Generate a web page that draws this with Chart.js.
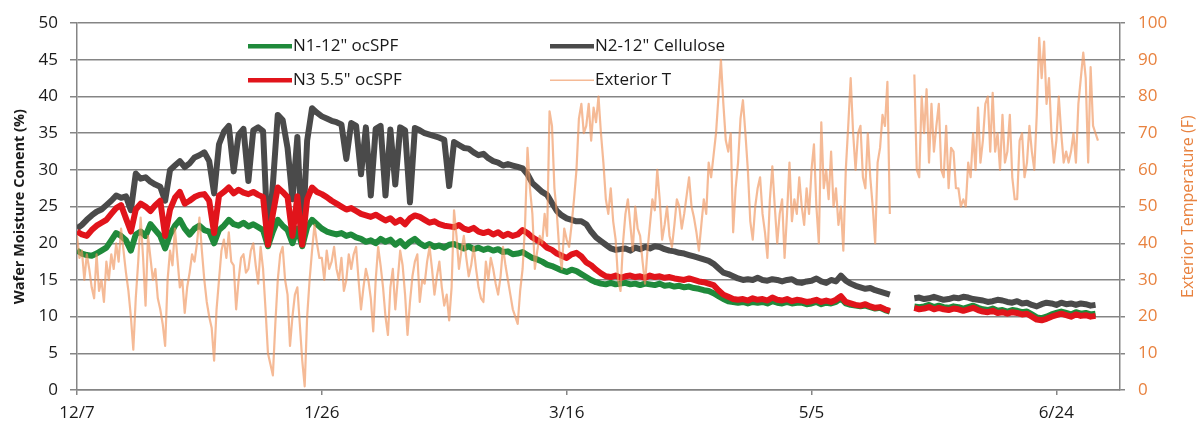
<!DOCTYPE html>
<html><head><meta charset="utf-8">
<script src="https://cdn.jsdelivr.net/npm/chart.js@4.4.1/dist/chart.umd.min.js"></script>
<style>html,body{margin:0;padding:0;background:#fff;}#wrap{width:1202px;height:432px;}</style>
</head><body><div id="wrap"><canvas id="c" width="1202" height="432"></canvas></div>
<script>
// x axis: days since 12/7
const tickDays = [0, 50, 100, 150, 200];
const tickLabels = ['12/7', '1/26', '3/16', '5/5', '6/24'];
const seriesNames = ['N1-12" ocSPF', 'N2-12" Cellulose', 'N3 5.5" ocSPF', 'Exterior T'];

// N1-12" ocSPF, one value per day (day 0 = 12/7)
const n1 = [
19.0,18.6,18.4,18.3,18.6,19.0,19.4,20.4,21.4,21.0,
20.4,19.0,21.2,21.6,21.0,22.6,21.8,21.0,19.3,21.2,
22.4,23.2,22.0,21.2,22.0,22.4,21.8,21.6,20.0,21.8,
22.4,23.2,22.6,22.4,22.8,22.3,22.6,22.2,21.8,19.6,
21.6,23.2,22.4,21.8,20.0,22.0,19.6,22.2,23.2,22.6,
22.0,21.6,21.4,21.2,21.4,21.0,21.2,20.8,20.6,20.2,
20.4,20.0,20.6,20.2,20.5,19.8,20.3,19.6,20.2,20.6,
20.0,19.6,19.9,19.5,19.7,19.4,19.8,19.9,19.6,19.3,
19.6,19.2,19.4,19.1,19.3,19.0,19.2,18.8,18.9,18.5,
18.6,18.8,18.4,18.0,17.8,17.5,17.1,16.9,16.6,16.3,
16.1,16.4,16.2,15.8,15.4,15.0,14.7,14.5,14.4,14.6,
14.4,14.5,14.6,14.4,14.5,14.3,14.5,14.4,14.3,14.5,
14.2,14.3,14.1,14.2,14.0,14.1,13.9,13.8,13.6,13.5,
13.2,12.8,12.4,12.1,12.0,11.9,12.0,11.8,12.0,11.9,
12.0,11.8,12.1,11.9,11.8,12.0,11.8,11.9,11.9,11.7,
11.8,12.0,11.7,11.9,11.8,12.0,12.5,11.8,11.6,11.5,
11.4,11.5,11.3,11.1,11.2,10.9,10.7,null,null,null,
null,11.4,11.3,11.4,11.6,11.3,11.5,11.3,11.2,11.4,
11.3,11.1,11.3,11.5,11.2,11.0,10.9,11.1,10.8,10.9,
10.7,10.9,10.8,10.6,10.7,10.3,9.9,9.8,10.0,10.3,
10.5,10.7,10.5,10.3,10.6,10.4,10.5,10.3,10.4
];

// N2-12" Cellulose
const n2 = [
22.0,22.5,23.2,23.8,24.3,24.6,25.2,25.8,26.5,26.2,
26.4,24.5,29.5,28.8,29.0,28.4,28.0,27.7,25.8,30.0,
30.6,31.2,30.4,30.9,31.7,32.0,32.4,31.2,26.8,33.5,
35.2,36.0,29.8,34.8,35.6,28.5,35.4,35.8,35.3,20.0,
28.0,37.5,36.8,33.0,26.0,34.5,19.8,34.0,38.4,37.8,
37.3,37.0,36.7,36.5,36.2,31.5,36.4,36.0,29.4,35.8,
26.5,35.6,36.0,26.5,35.5,28.0,35.8,35.4,25.6,35.7,
35.4,35.0,34.8,34.6,34.4,34.1,27.8,33.8,33.4,33.0,
32.9,32.4,32.0,32.2,31.6,31.2,31.0,30.6,30.8,30.6,
30.4,30.2,29.4,28.2,27.6,27.0,26.6,25.5,24.4,23.8,
23.4,23.2,23.0,23.0,22.6,21.6,20.8,20.3,19.8,19.3,
19.1,19.2,19.3,19.0,19.4,19.2,19.5,19.3,19.6,19.5,
19.2,19.0,18.9,18.7,18.6,18.4,18.2,18.0,17.8,17.6,
17.2,16.6,16.0,15.8,15.5,15.2,15.0,15.1,15.0,15.3,
15.0,14.9,15.1,15.0,14.8,15.0,15.1,14.7,14.6,14.8,
14.9,15.2,14.8,14.6,15.0,14.8,15.6,14.9,14.5,14.2,
14.0,13.8,13.9,13.6,13.4,13.2,13.0,null,null,null,
null,12.5,12.6,12.4,12.5,12.7,12.5,12.3,12.4,12.6,
12.5,12.7,12.6,12.4,12.3,12.2,12.0,12.1,12.3,12.2,
12.0,11.9,12.1,11.8,11.9,11.6,11.4,11.7,11.9,11.8,
11.6,11.9,11.7,11.8,11.6,11.8,11.7,11.5,11.6
];

// N3 5.5" ocSPF
const n3 = [
21.6,21.2,21.0,21.8,22.4,22.8,23.2,24.0,24.8,25.2,
23.4,21.6,24.6,25.4,25.0,24.4,25.2,25.8,21.0,24.6,
26.2,27.0,25.4,25.8,26.3,26.6,26.7,25.8,21.4,26.5,
27.0,27.6,26.8,27.3,26.9,26.7,27.0,26.6,26.3,19.8,
24.0,27.6,27.0,26.3,21.0,26.4,19.8,26.0,27.6,27.0,
26.7,26.3,25.8,25.4,25.0,24.6,24.8,24.4,24.0,23.8,
23.6,23.9,23.5,23.1,23.4,22.8,23.2,22.6,23.4,23.8,
23.6,23.2,22.8,23.0,22.6,22.4,22.3,22.2,22.5,22.0,
21.8,22.1,21.6,21.4,21.6,21.2,21.5,21.0,21.3,21.0,
21.2,21.8,21.4,20.8,20.4,20.0,19.4,19.1,18.6,18.3,
18.0,18.5,18.7,18.2,17.4,17.0,16.4,15.9,15.5,15.4,
15.6,15.3,15.5,15.6,15.4,15.5,15.3,15.6,15.4,15.5,
15.3,15.4,15.2,15.1,15.0,15.2,15.0,14.8,14.7,14.5,
14.3,13.6,13.0,12.7,12.4,12.3,12.4,12.2,12.5,12.3,
12.4,12.2,12.6,12.3,12.2,12.4,12.1,12.3,12.2,12.0,
12.1,12.3,12.0,12.2,12.0,12.3,12.8,12.0,11.8,11.6,
11.5,11.7,11.4,11.2,11.3,11.0,10.8,null,null,null,
null,11.2,11.0,11.1,11.3,11.0,11.2,11.0,10.9,11.1,
11.0,10.8,11.0,11.2,10.9,10.7,10.6,10.8,10.5,10.6,
10.4,10.6,10.5,10.3,10.4,10.0,9.6,9.5,9.7,10.0,
10.2,10.4,10.2,10.0,10.3,10.1,10.2,10.0,10.1
];

// Exterior T (F), two readings per day
const extT = [
42,36, 38,30, 37,33, 28,25, 37,27, 30,24, 35,30, 37,33, 40,35, 44,38,
32,27, 20,11, 25,35, 47,36, 23,42, 36,30, 33,25, 22,18, 12,30, 38,34,
44,36, 28,30, 21,28, 32,37, 35,40, 47,38, 30,24, 20,17, 8,22, 30,38,
41,36, 43,35, 34,22, 30,36, 37,32, 33,38, 40,34, 29,39, 33,22, 10,7,
4,18, 30,37, 39,30, 26,12, 20,26, 28,18, 8,1, 20,30, 38,45, 40,36,
36,30, 38,33, 35,39, 33,30, 36,27, 30,37, 33,37, 39,30, 22,28, 33,30,
25,16, 30,39, 34,28, 20,15, 28,33, 22,30, 38,34, 26,15, 24,31, 35,37,
24,30, 29,35, 39,33, 26,31, 35,28, 23,26, 19,28, 49,42, 33,38, 42,36,
31,34, 39,33, 28,25, 24,35, 30,36, 33,29, 26,31, 39,34, 30,26, 22,20,
18,27, 33,45, 66,55, 48,33, 38,42, 40,48, 42,76, 72,55, 48,38, 33,44,
41,39, 45,52, 60,74, 78,70, 72,78, 68,77, 73,80, 70,62, 52,48, 55,46,
41,30, 27,40, 48,52, 45,38, 50,44, 42,35, 29,38, 45,52, 49,60, 52,41,
45,50, 42,39, 45,52, 50,44, 48,53, 58,50, 47,43, 38,45, 52,48, 62,58,
64,70, 80,90, 78,68, 65,70, 43,55, 62,74, 79,70, 60,46, 41,50, 55,58,
48,43, 36,52, 61,50, 40,48, 52,36, 48,62, 46,52, 48,58, 50,45, 55,48,
60,67, 50,40, 73,55, 60,52, 65,50, 55,45, 50,38, 60,72, 85,70, 60,70,
72,58, 55,70, 58,50, 40,62, 66,75, 72,84, 48,null, null,null, null,null, null,null,
null,null, 86,60, 58,80, 70,82, 62,78, 65,72, 78,60, 58,72, 55,66, 65,55,
55,50, 52,50, 62,58, 70,60, 77,62, 68,78, 80,65, 81,65, 70,60, 75,62,
65,75, 58,52, 52,68, 70,58, 62,72, 65,60, 75,96, 85,95, 78,85, 70,62,
68,80, 70,62, 65,62, 65,70, 62,78, 85,92, 85,62, 88,72, 70,68
];

const FONT = "'Open Sans', 'DejaVu Sans', sans-serif";
const GRID = '#858585';
const ORANGE = '#E8823F';
const TEXT = '#1a1a1a';

const daily = arr => arr.map((v, i) => ({x: i, y: v}));
const halfDaily = arr => arr.map((v, i) => ({x: i / 2, y: v}));

const legendPlugin = {
  id: 'insideLegend',
  afterDraw(chart) {
    const {ctx, chartArea: a} = chart;
    const ds = chart.data.datasets;
    const items = [
      {i: 2, col: 0, row: 0}, {i: 3, col: 1, row: 0},
      {i: 1, col: 0, row: 1}, {i: 0, col: 1, row: 1}
    ];
    const colX = [a.left + 171, a.left + 473];
    const rowY = [a.top + 23, a.top + 57];
    ctx.save();
    ctx.font = "17px " + FONT;
    ctx.textBaseline = 'middle';
    ctx.textAlign = 'left';
    items.forEach(it => {
      const d = ds[it.i];
      const x = colX[it.col], y = rowY[it.row];
      ctx.strokeStyle = d.borderColor;
      ctx.lineWidth = it.i === 0 ? 1.5 : 4.5;
      ctx.beginPath(); ctx.moveTo(x, y); ctx.lineTo(x + 44, y); ctx.stroke();
      ctx.fillStyle = TEXT;
      ctx.fillText(d.label, x + 45, y);
    });
    ctx.restore();
  }
};

const rightTitlePlugin = {
  id: 'rightTitle',
  afterDraw(chart) {
    const {ctx, chartArea: a} = chart;
    ctx.save();
    ctx.translate(a.right + 68, (a.top + a.bottom) / 2);
    ctx.rotate(-Math.PI / 2);
    ctx.font = "16px " + FONT;
    ctx.fillStyle = ORANGE;
    ctx.textAlign = 'center';
    ctx.textBaseline = 'middle';
    ctx.fillText('Exterior Temperature (F)', 0, 0);
    ctx.restore();
  }
};

new Chart(document.getElementById('c'), {
  type: 'line',
  data: {
    datasets: [
      {label: seriesNames[3], data: halfDaily(extT), yAxisID: 'yT', borderColor: 'rgba(240,150,96,0.66)', borderWidth: 2.2, pointRadius: 0, order: 0},
      {label: seriesNames[2], data: daily(n3), yAxisID: 'y', borderColor: '#E1141B', borderWidth: 6, pointRadius: 0, order: 1},
      {label: seriesNames[0], data: daily(n1), yAxisID: 'y', borderColor: '#1F8A3B', borderWidth: 6, pointRadius: 0, order: 2},
      {label: seriesNames[1], data: daily(n2), yAxisID: 'y', borderColor: '#4A4A4A', borderWidth: 6, pointRadius: 0, order: 3}
    ]
  },
  options: {
    responsive: false,
    animation: false,
    devicePixelRatio: 1,
    layout: {padding: {top: 16, left: 0, right: 0, bottom: 0}},
    plugins: {legend: {display: false}, tooltip: {enabled: false}},
    elements: {line: {tension: 0, borderJoinStyle: 'round'}},
    scales: {
      x: {
        type: 'linear', min: 0, max: 213,
        afterBuildTicks: s => { s.ticks = tickDays.map(v => ({value: v})); },
        ticks: {callback: v => tickLabels[tickDays.indexOf(v)], font: {family: FONT, size: 17}, color: TEXT, padding: 8, maxRotation: 0, autoSkip: false},
        grid: {drawOnChartArea: false, tickLength: 5, color: GRID, lineWidth: 1.5},
        border: {color: GRID, width: 1.5},
        afterFit: s => { s.height = 42; }
      },
      y: {
        position: 'left', min: 0, max: 50,
        ticks: {stepSize: 5, font: {family: FONT, size: 17}, color: TEXT, padding: 12},
        grid: {color: GRID, lineWidth: 1.5, tickLength: 7},
        border: {color: GRID, width: 1.5},
        title: {display: true, text: 'Wafer Moisture Conent (%)', font: {family: FONT, size: 14.5, weight: 'bold'}, color: TEXT, padding: {top: 11, bottom: 0}},
        afterFit: s => { s.width = 77; }
      },
      yT: {
        position: 'right', min: 0, max: 100,
        ticks: {stepSize: 10, font: {family: FONT, size: 17}, color: ORANGE, padding: 13},
        grid: {drawOnChartArea: false, tickLength: 5, color: GRID, lineWidth: 1.5},
        border: {color: GRID, width: 1.5},
        afterFit: s => { s.width = 82; }
      }
    }
  },
  plugins: [legendPlugin, rightTitlePlugin]
});
</script>
</body></html>
